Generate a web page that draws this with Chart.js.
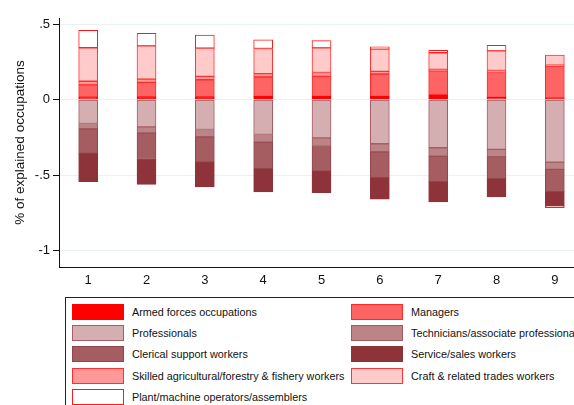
<!DOCTYPE html>
<html>
<head>
<meta charset="utf-8">
<script src="https://cdn.jsdelivr.net/npm/chart.js@4/dist/chart.umd.min.js"></script>
<style>
  html, body { margin: 0; padding: 0; background: #fff; overflow: hidden; width: 574px; height: 405px; }
  #wrap { position: relative; width: 584px; height: 405px; }
  #c { position: absolute; left: 0; top: 0; }
  #legend { position: absolute; left: 65px; top: 297px; width: 540px; height: 130px;
            border: 1px solid #222; box-sizing: border-box; background: #fff;
            font-family: "Liberation Sans", Arial, sans-serif; font-size: 10.8px; color: #111; }
  .item { position: absolute; height: 16px; white-space: nowrap; }
  .sw { position: absolute; left: 0; top: 0; width: 52px; height: 16px; box-sizing: border-box; border: 1px solid; }
  .lb { position: absolute; left: 60px; top: 1px; line-height: 14px; }
</style>
</head>
<body>
<div id="wrap">
  <canvas id="c" width="584" height="405"></canvas>
  <div id="legend"></div>
</div>
<script>
// ---- data ----
const categories = ["1", "2", "3", "4", "5", "6", "7", "8", "9"];
const seriesNames = [
  "Armed forces occupations", "Managers", "Professionals",
  "Technicians/associate professionals", "Clerical support workers",
  "Service/sales workers", "Skilled agricultural/forestry & fishery workers",
  "Craft & related trades workers", "Plant/machine operators/assemblers"
];
const armedForces   = [0.017, 0.018, 0.018, 0.022, 0.022, 0.022, 0.031, 0.015, 0.011];
const managers      = [0.081, 0.096, 0.114, 0.128, 0.132, 0.148, 0.160, 0.165, 0.211];
const professionals = [-0.158, -0.180, -0.198, -0.231, -0.253, -0.292, -0.319, -0.330, -0.414];
const technicians   = [-0.035, -0.040, -0.048, -0.051, -0.051, -0.053, -0.055, -0.048, -0.048];
const clerical      = [-0.163, -0.170, -0.168, -0.176, -0.170, -0.172, -0.169, -0.145, -0.147];
const serviceSales  = [-0.187, -0.172, -0.165, -0.154, -0.143, -0.143, -0.135, -0.121, -0.095];
const skilledAgri   = [0.024, 0.022, 0.022, 0.022, 0.026, 0.017, 0.010, 0.013, 0.007];
const craft         = [0.222, 0.220, 0.187, 0.167, 0.163, 0.148, 0.110, 0.130, 0.067];
const plant         = [0.115, 0.084, 0.086, 0.057, 0.048, 0.015, 0.015, 0.037, -0.012];
const yTickValues = [0.5, 0, -0.5, -1];
const yTickLabels = [".5", "0", "-.5", "-1"];
const yTitle = "% of explained occupations";

// ---- styles ----
const seriesData = [armedForces, managers, professionals, technicians, clerical, serviceSales, skilledAgri, craft, plant];
const fills   = ["#ff0000", "#ff6464", "#d4aeb1", "#bd8487", "#a65d62", "#8f333b", "#ff9898", "#ffcaca", "#ffffff"];
const borders = ["#ff0000", "#ff2a2a", "#a85c63", "#a05a60", "#93454c", "#8f333b", "#ff3030", "#ff3434", "#ff1a1a"];

const datasets = seriesNames.map((name, i) => ({
  label: name,
  data: seriesData[i],
  backgroundColor: fills[i],
  borderColor: borders[i],
  borderWidth: 1,
  borderSkipped: false,
  barThickness: 19,
  stack: "s"
}));

const FONT = "'Liberation Sans', Arial, sans-serif";

new Chart(document.getElementById("c"), {
  type: "bar",
  data: { labels: categories, datasets },
  options: {
    responsive: false,
    animation: false,
    devicePixelRatio: 1,
    layout: { padding: { top: 18, right: 0, left: 0, bottom: 0 } },
    plugins: { legend: { display: false }, tooltip: { enabled: false } },
    scales: {
      x: {
        stacked: true,
        grid: { display: false, drawTicks: false },
        border: { display: true, color: "#111", width: 1 },
        ticks: { color: "#111", font: { family: FONT, size: 13 }, padding: 6 },
        afterFit: (s) => { s.height = 405 - 267; }
      },
      y: {
        stacked: true,
        min: -1.109, max: 0.541,
        afterBuildTicks: (s) => { s.ticks = yTickValues.map(v => ({ value: v })); },
        ticks: {
          color: "#111", font: { family: FONT, size: 13 }, padding: 3,
          callback: (v) => { const k = yTickValues.indexOf(v); return k >= 0 ? yTickLabels[k] : ""; }
        },
        grid: { color: "#eaf1f2", lineWidth: 1, drawTicks: true, tickLength: 6, tickColor: "#111" },
        border: { display: true, color: "#111", width: 1 },
        title: { display: true, text: yTitle, color: "#111", font: { family: FONT, size: 13.5 }, padding: { top: 12, bottom: 0 } },
        afterFit: (s) => { s.width = 59; }
      }
    }
  }
});

// ---- legend (real text) ----
const leg = document.getElementById("legend");
seriesNames.forEach((name, i) => {
  const row = Math.floor(i / 2), col = i % 2;
  const it = document.createElement("div");
  it.className = "item";
  it.style.left = (col === 0 ? 6 : 285) + "px";
  it.style.top = (5.5 + row * 21.4) + "px";
  const sw = document.createElement("div");
  sw.className = "sw";
  sw.style.background = fills[i];
  sw.style.borderColor = borders[i];
  const lb = document.createElement("div");
  lb.className = "lb";
  lb.textContent = name;
  it.appendChild(sw); it.appendChild(lb);
  leg.appendChild(it);
});
</script>
</body>
</html>
